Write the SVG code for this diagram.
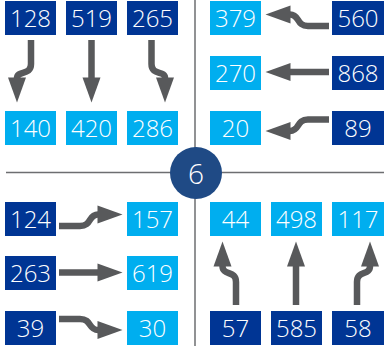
<svg xmlns="http://www.w3.org/2000/svg" width="384" height="346" viewBox="0 0 384 346">
<style>
.dk{fill:#003594}
.lt{fill:#00aeef}
.t{fill:#ffffff;font-family:"Open Sans",Lato,"Liberation Sans",sans-serif;font-size:24px;font-weight:300;text-anchor:middle}
.ar{fill:none;stroke:#58595b;stroke-width:6.5;stroke-linecap:butt;marker-end:url(#ah)}
.ln{stroke:#6d6e71;stroke-width:1.5;fill:none}
</style>
<defs>
<marker id="ah" markerUnits="userSpaceOnUse" markerWidth="26" markerHeight="18" refX="0.5" refY="9" orient="auto" overflow="visible">
<path d="M0,0 L25,9 L0,18 Z" fill="#58595b"/>
</marker>
</defs>
<g id="grid">
<line class="ln" x1="195" y1="0" x2="195" y2="346"/>
<line class="ln" x1="6" y1="172.5" x2="384" y2="172.5"/>
</g>
<g id="connectors">
<path class="ar" d="M31,40 V64 C31,76 17,70 17,78"/>
<path class="ar" d="M91.5,40 V78"/>
<path class="ar" d="M151.5,40 V64 C151.5,76 165,70 165,78"/>
<path class="ar" d="M329,26 H308 C296,26 300,14.5 290,14.5"/>
<path class="ar" d="M329,72 H290"/>
<path class="ar" d="M329,119.5 H308 C296,119.5 300,131 290,131"/>
<path class="ar" d="M59,226 H80 C92,226 88,214.5 98,214.5"/>
<path class="ar" d="M59,272.5 H98"/>
<path class="ar" d="M59,319 H80 C92,319 88,330 98,330"/>
<path class="ar" d="M236,305 V282 C236,270 222.5,276 222.5,266"/>
<path class="ar" d="M296,305 V266"/>
<path class="ar" d="M357,305 V282 C357,270 370,276 370,266"/>
</g>
<g id="n128"><rect class="dk" x="5" y="1" width="51" height="34"/><text class="t" x="30.5" y="26.5">128</text></g>
<g id="n519"><rect class="dk" x="66" y="1" width="51" height="34"/><text class="t" x="91.5" y="26.5">519</text></g>
<g id="n265"><rect class="dk" x="127" y="1" width="51" height="34"/><text class="t" x="152.5" y="26.5">265</text></g>
<g id="n140"><rect class="lt" x="5" y="111" width="51" height="34"/><text class="t" x="30.5" y="136.5">140</text></g>
<g id="n420"><rect class="lt" x="66" y="111" width="51" height="34"/><text class="t" x="91.5" y="136.5">420</text></g>
<g id="n286"><rect class="lt" x="127" y="111" width="51" height="34"/><text class="t" x="152.5" y="136.5">286</text></g>
<g id="n379"><rect class="lt" x="210" y="1" width="51" height="34"/><text class="t" x="235.5" y="26.5">379</text></g>
<g id="n270"><rect class="lt" x="210" y="56" width="51" height="34"/><text class="t" x="235.5" y="81.5">270</text></g>
<g id="n20"><rect class="lt" x="210" y="111" width="51" height="34"/><text class="t" x="235.5" y="136.5">20</text></g>
<g id="n560"><rect class="dk" x="332" y="1" width="52" height="34"/><text class="t" x="358" y="26.5">560</text></g>
<g id="n868"><rect class="dk" x="332" y="56" width="52" height="34"/><text class="t" x="358" y="81.5">868</text></g>
<g id="n89"><rect class="dk" x="332" y="111" width="52" height="34"/><text class="t" x="358" y="136.5">89</text></g>
<g id="n124"><rect class="dk" x="5" y="202" width="51" height="34"/><text class="t" x="30.5" y="227.5">124</text></g>
<g id="n263"><rect class="dk" x="5" y="256" width="51" height="34"/><text class="t" x="30.5" y="281.5">263</text></g>
<g id="n39"><rect class="dk" x="5" y="311" width="51" height="34"/><text class="t" x="30.5" y="336.5">39</text></g>
<g id="n157"><rect class="lt" x="127" y="202" width="51" height="34"/><text class="t" x="152.5" y="227.5">157</text></g>
<g id="n619"><rect class="lt" x="127" y="256" width="51" height="34"/><text class="t" x="152.5" y="281.5">619</text></g>
<g id="n30"><rect class="lt" x="127" y="311" width="51" height="34"/><text class="t" x="152.5" y="336.5">30</text></g>
<g id="n44"><rect class="lt" x="210" y="202" width="51" height="34"/><text class="t" x="235.5" y="227.5">44</text></g>
<g id="n498"><rect class="lt" x="271" y="202" width="51" height="34"/><text class="t" x="296.5" y="227.5">498</text></g>
<g id="n117"><rect class="lt" x="332" y="202" width="52" height="34"/><text class="t" x="358" y="227.5">117</text></g>
<g id="n57"><rect class="dk" x="210" y="311" width="51" height="34"/><text class="t" x="235.5" y="336.5">57</text></g>
<g id="n585"><rect class="dk" x="271" y="311" width="51" height="34"/><text class="t" x="296.5" y="336.5">585</text></g>
<g id="n58"><rect class="dk" x="332" y="311" width="52" height="34"/><text class="t" x="358" y="336.5">58</text></g>
<g id="center"><circle cx="196" cy="173" r="26" fill="#1f4a85"/><text x="196" y="184" fill="#ffffff" font-family="'Open Sans',Lato,'Liberation Sans',sans-serif" font-size="28" font-weight="300" text-anchor="middle">6</text></g>
</svg>
